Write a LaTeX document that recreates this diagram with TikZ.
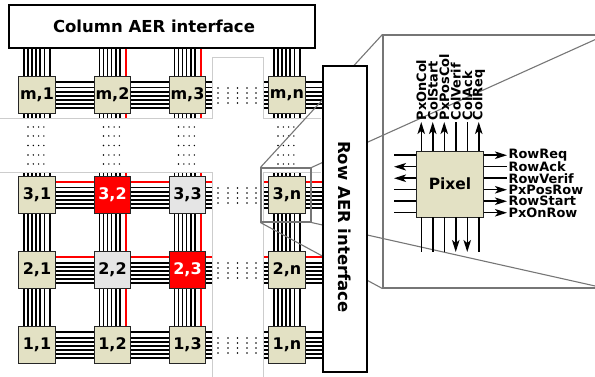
\documentclass[tikz,border=0pt]{standalone}
\usepackage{fontspec}
\setmainfont{DejaVu Sans}
\usetikzlibrary{arrows.meta,calc}
\definecolor{pxfill}{RGB}{227,225,196}
\definecolor{pxgray}{RGB}{229,229,229}
\definecolor{brkgray}{RGB}{205,205,205}
\definecolor{zoomgray}{RGB}{118,118,118}
\begin{document}
\begin{tikzpicture}[x=1pt,y=-1pt,
 wire/.style={line width=1.6pt},
 brkline/.style={draw=brkgray,line width=0.8pt},
 pix/.style={draw=black!85,line width=0.9pt,fill=pxfill,minimum width=36.5pt,minimum height=36.5pt,inner sep=0pt,font=\bfseries\fontsize{16}{16}\selectfont},
 pixred/.style={pix,fill=red,text=white},
 pixgray/.style={pix,fill=pxgray},
 aer/.style={draw=black,line width=1.4pt,fill=white,inner sep=0pt},
 aertext/.style={font=\bfseries\fontsize{16.5}{18}\selectfont,inner sep=0pt},
 zoombox/.style={draw=zoomgray,line width=1.1pt,inner sep=0pt},
 zoomline/.style={draw=zoomgray,line width=1.1pt},
 sig/.style={line width=1.5pt},
 arr/.style={sig,-{Stealth[length=12pt,width=7.5pt,inset=3pt]}},
 siglab/.style={font=\bfseries\fontsize{12.9}{13}\selectfont,inner sep=0pt},
 dotf/.style={fill=black}
]
\useasboundingbox (0,0) rectangle (595,377);
\clip (0,0) rectangle (595,377);

% vertical wire bundles (7th wire red where active)
\foreach \c/\r in {37/0,112.5/1,187.5/1,287/0}{
  \foreach \o [count=\k] in {-13.2,-9.1,-5,-0.9,3.2,7.3,13.2}{
    \ifnum\k=7 \ifnum\r=1 \def\wc{red}\else\def\wc{black}\fi\else\def\wc{black}\fi
    \pgfmathsetmacro\wx{\c+\o}
    \draw[wire,draw=\wc] (\wx,48) -- (\wx,327);
  }
}
% horizontal wire bundles (top wire red where active)
\foreach \rw/\r in {95/0,195/1,270/1,345/0}{
  \foreach \o [count=\k] in {-13.2,-9.1,-5,-0.9,3.2,7.3,13.2}{
    \ifnum\k=7 \ifnum\r=1 \def\wc{red}\else\def\wc{black}\fi\else\def\wc{black}\fi
    \pgfmathsetmacro\wy{\rw-\o}
    \draw[wire,draw=\wc] (55,\wy) -- (323,\wy);
  }
}

% breaks
\fill[white] (-2,118) rectangle (321,172);
\fill[white] (212,57) rectangle (263,380);
\draw[brkline] (-2,118) -- (212,118) -- (212,57) -- (263,57) -- (263,118) -- (321,118);
\draw[brkline] (-2,172) -- (212,172) -- (212,380);
\draw[brkline] (321,172) -- (263,172) -- (263,380);

% dots in horizontal break
\foreach \c in {37,112.5,187.5,287}
  \foreach \yy in {127,136,145.5,155,164}
    \foreach \dx in {-9,-3.7,1.6,6.9}{
      \pgfmathsetmacro\dxx{\c+\dx}
      \fill[dotf] (\dxx,\yy) circle (0.8);
    }
% dots in vertical break
\foreach \rw in {95,195,270,345}
  \foreach \xx in {218,228,237.5,247,256}
    \foreach \dy in {-7,-2,3,8}{
      \pgfmathsetmacro\dyy{\rw+\dy}
      \fill[dotf] (\xx,\dyy) circle (0.8);
    }

% pixels
\node[pix] (pm1) at (37,95) {m,1};
\node[pix] (pm2) at (112.5,95) {m,2};
\node[pix] (pm3) at (187.5,95) {m,3};
\node[pix] (pmn) at (287,95) {m,n};
\node[pix] (p31) at (37,195) {3,1};
\node[pixred] (p32) at (112.5,195) {3,2};
\node[pixgray] (p33) at (187.5,195) {3,3};
\node[pix] (p3n) at (287,195) {3,n};
\node[pix] (p21) at (37,270) {2,1};
\node[pixgray] (p22) at (112.5,270) {2,2};
\node[pixred] (p23) at (187.5,270) {2,3};
\node[pix] (p2n) at (287,270) {2,n};
\node[pix] (p11) at (37,345) {1,1};
\node[pix] (p12) at (112.5,345) {1,2};
\node[pix] (p13) at (187.5,345) {1,3};
\node[pix] (p1n) at (287,345) {1,n};

% zoom callout
\node[zoombox,minimum width=50pt,minimum height=54pt] (zs) at (286,195) {};
\node[zoombox,minimum width=223pt,minimum height=253pt] (zb) at (494.5,161.5) {};
\draw[zoomline] (zs.north west) -- (zb.north west);
\draw[zoomline] (zs.north east) -- (zb.north east);
\draw[zoomline] (zs.south west) -- (zb.south west);
\draw[zoomline] (zs.south east) -- (zb.south east);

% AER interfaces
\node[aer,minimum width=306pt,minimum height=43pt] (colaer) at (162,26.5) {};
\node[aertext] (colaert) at ($(colaer.center)+(-8,0)$) {Column AER interface};
\node[aer,minimum width=44pt,minimum height=306pt] (rowaer) at (345,219) {};
\node[aertext,rotate=-90] (rowaert) at ($(rowaer.center)+(0,8)$) {Row AER interface};

% pixel detail
\node[pix,minimum width=67pt,minimum height=66pt,font=\bfseries\fontsize{15.5}{16}\selectfont] (px) at (450,184) {Pixel};
\foreach \i/\lab/\st in {1/PxOnCol/arr,2/ColStart/arr,3/PxPosCol/arr,4/ColVerif/sig,5/ColAck/sig,6/ColReq/arr}{
  \coordinate (ct\i) at (421.25+11.5*\i-11.5,122);
  \draw[\st] (ct\i |- px.north) -- (ct\i);
  \node[siglab,rotate=90,anchor=west] (lt\i) at ($(ct\i)+(0,-1.5)$) {\lab};
}
\foreach \i/\st in {1/sig,2/sig,3/sig,4/arr,5/arr,6/sig}{
  \coordinate (cb\i) at (421.25+11.5*\i-11.5,252);
  \draw[\st] (cb\i |- px.south) -- (cb\i);
}
\foreach \i/\st in {1/sig,2/arr,3/arr,4/sig,5/sig,6/sig}{
  \coordinate (cl\i) at (394,155.25+11.5*\i-11.5);
  \draw[\st] (cl\i -| px.west) -- (cl\i);
}
\foreach \i/\lab/\st in {1/RowReq/arr,2/RowAck/sig,3/RowVerif/sig,4/PxPosRow/arr,5/RowStart/arr,6/PxOnRow/arr}{
  \coordinate (cr\i) at (507,155.25+11.5*\i-11.5);
  \draw[\st] (cr\i -| px.east) -- (cr\i);
  \node[siglab,anchor=west] (lr\i) at ($(cr\i)+(1.5,0)$) {\lab};
}
\end{tikzpicture}
\end{document}
